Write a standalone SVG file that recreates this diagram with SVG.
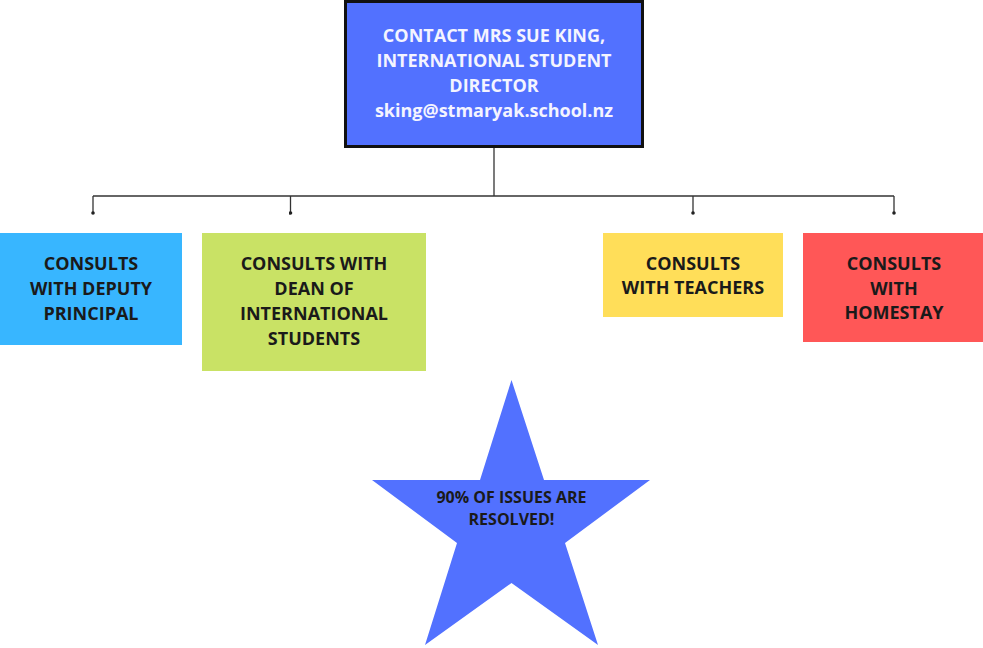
<svg xmlns="http://www.w3.org/2000/svg" width="983" height="648" viewBox="0 0 983 648">
<style>
.t{font-family:"Open Sans","Liberation Sans",sans-serif;font-weight:700;text-anchor:middle}
.w{fill:#f4f4ff;font-size:18px}
.d{fill:#1a1a1a;font-size:18px}
.s{fill:#1a1a1a;font-size:16px}
.c{stroke:#333;stroke-width:1.3;fill:none}
</style>
<defs>
<marker id="dot" markerWidth="4" markerHeight="4" refX="2" refY="2" markerUnits="userSpaceOnUse"><circle cx="2" cy="2" r="1.8" fill="#222"/></marker>
</defs>
<rect width="983" height="648" fill="#fff"/>
<g id="connectors">
<path class="c" d="M494 148V196"/>
<path class="c" d="M93 196H894"/>
<path class="c" d="M93 196V213" marker-end="url(#dot)"/>
<path class="c" d="M290.5 196V213" marker-end="url(#dot)"/>
<path class="c" d="M693 196V213" marker-end="url(#dot)"/>
<path class="c" d="M894 196V213" marker-end="url(#dot)"/>
</g>
<g id="director">
<rect x="345.5" y="1.5" width="297" height="145" fill="#5271ff" stroke="#111" stroke-width="3"/>
<text class="t w" x="494" y="42">CONTACT MRS SUE KING,</text>
<text class="t w" x="494" y="67">INTERNATIONAL STUDENT</text>
<text class="t w" x="494" y="92">DIRECTOR</text>
<text class="t w" x="494" y="117">sking@stmaryak.school.nz</text>
</g>
<g id="deputy">
<rect x="0" y="233" width="182" height="112" fill="#38b6ff"/>
<text class="t d" x="91" y="270">CONSULTS</text>
<text class="t d" x="91" y="295">WITH DEPUTY</text>
<text class="t d" x="91" y="320">PRINCIPAL</text>
</g>
<g id="dean">
<rect x="202" y="233" width="224" height="138" fill="#c9e265"/>
<text class="t d" x="314" y="270">CONSULTS WITH</text>
<text class="t d" x="314" y="295">DEAN OF</text>
<text class="t d" x="314" y="320">INTERNATIONAL</text>
<text class="t d" x="314" y="345">STUDENTS</text>
</g>
<g id="teachers">
<rect x="603" y="233" width="180" height="84" fill="#ffde59"/>
<text class="t d" x="693" y="270">CONSULTS</text>
<text class="t d" x="693" y="294">WITH TEACHERS</text>
</g>
<g id="homestay">
<rect x="803" y="233" width="180" height="109" fill="#ff5757"/>
<text class="t d" x="894" y="270">CONSULTS</text>
<text class="t d" x="894" y="295">WITH</text>
<text class="t d" x="894" y="319">HOMESTAY</text>
</g>
<g id="star">
<polygon points="511.5,380 544,480 650,480 565,543 598,645 511.5,583 425,645 457,543 372,480 480,480" fill="#5271ff"/>
<text class="t s" x="511.5" y="503">90% OF ISSUES ARE</text>
<text class="t s" x="511.5" y="525">RESOLVED!</text>
</g>
</svg>
